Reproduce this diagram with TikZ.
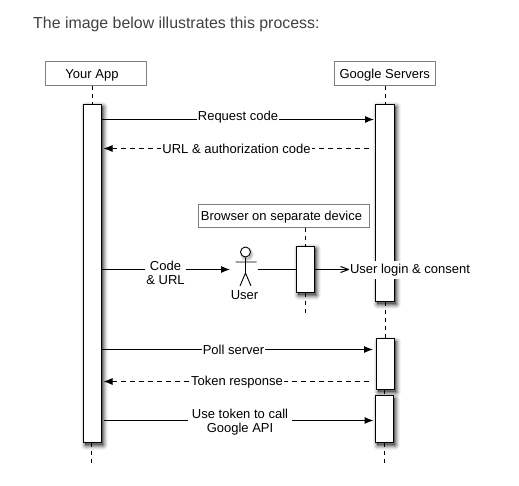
\documentclass[tikz,border=0pt]{standalone}
\usepackage{fontspec}
\setmainfont{Liberation Sans}
\usetikzlibrary{arrows.meta,calc}
\tikzset{
  softshadow/.style={
    preaction={draw=black,fill=black,opacity=.05,line width=9pt,line join=round,transform canvas={xshift=1.5pt,yshift=-2.5pt}},
    preaction={draw=black,fill=black,opacity=.07,line width=7pt,line join=round,transform canvas={xshift=1.5pt,yshift=-2.5pt}},
    preaction={draw=black,fill=black,opacity=.10,line width=5pt,line join=round,transform canvas={xshift=1.5pt,yshift=-2.5pt}},
    preaction={draw=black,fill=black,opacity=.14,line width=3pt,line join=round,transform canvas={xshift=1.5pt,yshift=-2.5pt}},
    preaction={draw=black,fill=black,opacity=.18,line width=1pt,line join=round,transform canvas={xshift=1.5pt,yshift=-2.5pt}}},
  hdr/.style={draw=black!50,fill=white,line width=1pt,inner sep=0pt,text height=12pt,text depth=2pt,font=\fontsize{13}{15}\selectfont},
  act/.style={softshadow,draw=black,fill=white,line width=1pt,inner sep=0pt},
  lbl/.style={fill=white,inner sep=1pt,align=center,font=\fontsize{13}{14.5}\selectfont},
  lifeline/.style={draw=black,line width=1pt,dash pattern=on 4pt off 4pt},
  msg/.style={draw=black,line width=1pt},
  ret/.style={draw=black,line width=1pt,dash pattern=on 4.5pt off 4.5pt},
  solidtip/.style={-{Latex[length=9pt,width=7pt]}},
  backtip/.style={{Latex[length=9pt,width=7pt]}-},
  opentip/.style={-{Straight Barb[length=8pt,width=6pt]}},
}
\begin{document}
\begin{tikzpicture}[x=1pt,y=-1pt]
\useasboundingbox (0,0) rectangle (519,486);
% title
\node[anchor=base west,inner sep=0pt,text=black!75,font=\fontsize{15.9}{19}\selectfont] (title) at (33,29) {The image below illustrates this process:};
% headers
\node[hdr,minimum width=101pt,minimum height=24pt] (app) at (96,74) {Your App\kern8pt};
\node[hdr,minimum width=101pt,minimum height=24pt] (srv) at (384.75,74) {Google Servers};
\node[hdr,text height=10pt,minimum width=171pt,minimum height=23pt] (brw) at (284,216.5) {Browser on separate device\kern5pt};
% activations
\node[act,minimum width=18pt,minimum height=338pt] (a1) at (92.5,273.5) {};
\node[act,minimum width=19pt,minimum height=197pt] (b1) at (385,203) {};
\node[act,minimum width=18pt,minimum height=51pt] (b2) at (385.5,364) {};
\node[act,minimum width=18pt,minimum height=47pt] (b3) at (384.5,419) {};
\node[act,minimum width=18pt,minimum height=46pt] (c1) at (305.5,269.5) {};
% free ends
\coordinate (endA) at (91.5,463);
\coordinate (endB) at (384.5,463);
\coordinate (endC) at (305,313);
% lifelines
\draw[lifeline] (app.south -| a1) -- (a1.north);
\draw[lifeline] (srv.south -| b1) -- (b1.north);
\draw[lifeline] (b1.south) -- (b2.north -| b1);
\draw[lifeline] (b2.south -| b3) -- (b3.north);
\draw[lifeline] (brw.south -| c1) -- (c1.north);
\draw[lifeline] (a1.south -| endA) -- (endA);
\draw[lifeline] (b3.south -| endB) -- (endB);
\draw[lifeline] (c1.south -| endC) -- (endC);
% actor
\node[circle,draw=black,fill=white,line width=.9pt,minimum size=10pt,inner sep=0pt,
  preaction={draw=black,fill=black,opacity=.15,line width=3pt,transform canvas={xshift=1.5pt,yshift=-2.5pt}}] (head) at (245.5,252) {};
\coordinate (armL) at (235.5,262);
\coordinate (armR) at (256.5,262);
\coordinate (hip) at (245.5,273);
\coordinate (legL) at (240,286);
\coordinate (legR) at (251,286);
\draw[black,line width=.9pt] (head.south) -- (hip) (armL) -- (armR) (legL) -- (hip) -- (legR);
\node[inner sep=0pt,font=\fontsize{13}{15}\selectfont] (user) at (244.5,295) {User};
\coordinate (userR) at (258,269.5);
\coordinate (userL) at (230,269.5);
\coordinate (loginL) at (350,269.5);
% message rows
\coordinate (r1) at (0,119.5);
\coordinate (r2) at (0,148.5);
\coordinate (r3) at (0,269.5);
\coordinate (r4) at (0,349.5);
\coordinate (r5) at (0,381.5);
\coordinate (r6) at (0,420.5);
% connectors
\draw[msg,solidtip,shorten >=1pt] (a1.east |- r1) -- (b1.west |- r1);
\draw[ret,backtip,shorten <=1.5pt,shorten >=2pt] (a1.east |- r2) -- (b1.west |- r2);
\draw[msg,solidtip] (a1.east |- r3) -- (userL);
\draw[msg] (userR) -- (c1.west |- r3);
\draw[msg,opentip] (c1.east |- r3) -- (loginL);
\draw[msg,solidtip,shorten >=3pt] (a1.east |- r4) -- (b2.west |- r4);
\draw[ret,backtip,shorten <=1.5pt,shorten >=3pt] (a1.east |- r5) -- (b2.west |- r5);
\draw[msg,solidtip,shorten <=2pt,shorten >=1.5pt] (a1.east |- r6) -- (b3.west |- r6);
% labels
\node[lbl] (t1) at (238,117) {Request code};
\node[lbl] (t2) at (236.5,149) {URL \& authorization code};
\node[lbl] (t3) at (165.5,273) {Code\\\& URL};
\node[lbl,inner xsep=1pt,inner ysep=3pt] (t4) at (410,270) {User login \& consent};
\node[lbl] (t5) at (233.5,350) {Poll server};
\node[lbl] (t6) at (237,382) {Token response};
\node[lbl,inner xsep=4pt] (t7) at (240,422) {Use token to call\\Google API};
\end{tikzpicture}
\end{document}
